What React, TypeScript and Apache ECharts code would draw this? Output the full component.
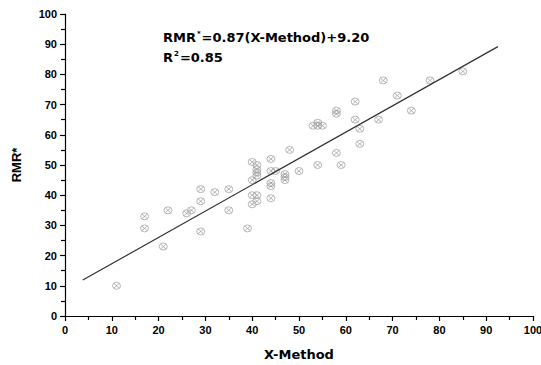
import React, { useEffect, useRef } from "react";
import * as echarts from "echarts";

const xValues = [
  11, 17, 17, 21, 22, 26, 27, 29, 29, 29, 32, 35, 35, 39,
  40, 41, 41, 41, 41, 40, 40, 41, 41, 40,
  44, 44, 45, 44, 44, 44, 47, 47, 47, 48, 50, 54, 58, 59, 63,
  68, 78, 85, 71, 74, 62, 58, 58, 62, 67, 63, 53, 54, 55, 54,
];
const yValues = [
  10, 33, 29, 23, 35, 34, 35, 42, 38, 28, 41, 42, 35, 29,
  51, 50, 48.5, 47.5, 46.5, 45, 40, 40, 38, 37,
  52, 48, 48, 44, 43, 39, 47, 46, 45, 55, 48, 50, 54, 50, 57,
  78, 78, 81, 73, 68, 71, 68, 67, 65, 65, 62, 63, 63, 63, 64,
];
const fitX = [3.8, 92.5];
const fitY = [11.9, 89.2];
const yTicks = [0, 10, 20, 30, 40, 50, 60, 70, 80, 90, 100];

const markerPath =
  "path://M0,5 A5,5 0 1,1 10,5 A5,5 0 1,1 0,5 Z M1.8,1.8 L8.2,8.2 M8.2,1.8 L1.8,8.2";

export default function App() {
  const ref = useRef<HTMLDivElement>(null);
  useEffect(() => {
    document.body.style.margin = "0";
    const chart = echarts.init(ref.current!, null, { renderer: "svg" });
    const font = "'Liberation Sans', Arial, sans-serif";
    const wide = "'DejaVu Sans', sans-serif";
    const axisCommon = {
      min: 0,
      max: 100,
      interval: 10,
      axisLine: { show: true, lineStyle: { color: "#000", width: 1.2 } },
      axisTick: { show: true, inside: false, length: 5, lineStyle: { color: "#000", width: 1.2 } },
      minorTick: { show: true, splitNumber: 2, length: 4, lineStyle: { color: "#000", width: 1.2 } },
      splitLine: { show: false },
      axisLabel: { color: "#000", fontFamily: font, fontWeight: "bold", fontSize: 11 },
    };
    const rich = {
      a: { fontFamily: wide, fontWeight: "bold", fontSize: 13, fill: "#000" },
      s: { fontFamily: wide, fontWeight: "bold", fontSize: 7, fill: "#000", verticalAlign: "top", padding: [0, 1, 8, 1] },
    };
    chart.setOption({
      animation: false,
      grid: { left: 65, right: 8, top: 14, bottom: 49, containLabel: false, outerBoundsMode: "none" },
      xAxis: {
        type: "value",
        ...axisCommon,
        axisLabel: { ...axisCommon.axisLabel, margin: 8 },
        name: "X-Method",
        nameLocation: "middle",
        nameGap: 32,
        nameTextStyle: { color: "#000", fontFamily: wide, fontWeight: "bold", fontSize: 13 },
      },
      yAxis: {
        type: "value",
        ...axisCommon,
        axisLabel: {
          ...axisCommon.axisLabel,
          margin: 8,
          formatter: (v: number) => (yTicks.includes(v) ? String(v) : ""),
        },
        name: "RMR*",
        nameLocation: "middle",
        nameGap: 42,
        nameRotate: 90,
        nameTextStyle: { color: "#000", fontFamily: font, fontWeight: "bold", fontSize: 13 },
      },
      graphic: [
        {
          type: "text",
          left: 163,
          top: 30,
          style: { text: "{a|RMR}{s|*}{a|=0.87(X-Method)+9.20}", rich },
        },
        {
          type: "text",
          left: 163,
          top: 50,
          style: { text: "{a|R}{s|2}{a|=0.85}", rich },
        },
      ],
      series: [
        {
          type: "scatter",
          data: xValues.map((x, i) => [x, yValues[i]]),
          symbol: markerPath,
          symbolSize: [8, 7],
          itemStyle: { color: "rgba(255,255,255,0)", borderColor: "#9a9a9a", borderWidth: 0.9 },
          z: 2,
        },
        {
          type: "line",
          data: fitX.map((x, i) => [x, fitY[i]]),
          showSymbol: false,
          symbol: "none",
          lineStyle: { color: "#333", width: 1.2 },
          z: 3,
        },
      ],
    });
    return () => chart.dispose();
  }, []);
  return <div ref={ref} style={{ width: 541, height: 365 }} />;
}
